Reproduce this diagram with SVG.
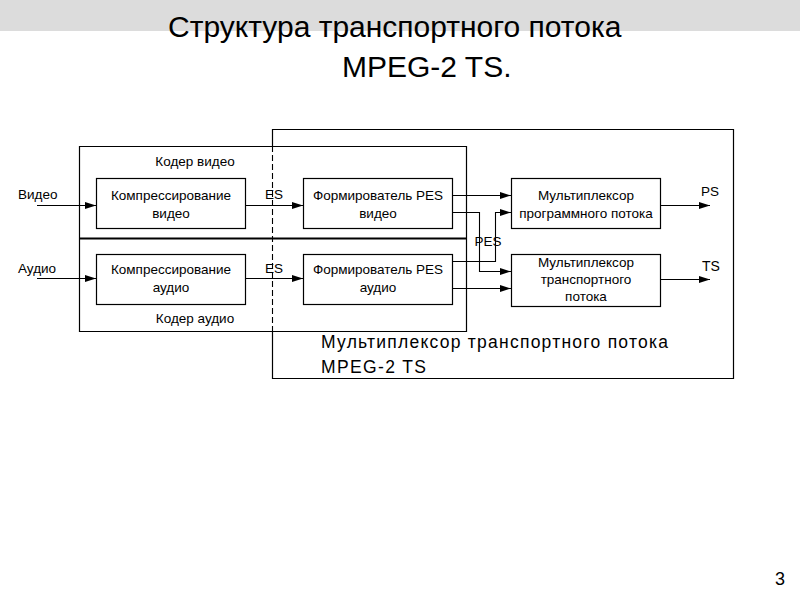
<svg xmlns="http://www.w3.org/2000/svg" width="800" height="600" viewBox="0 0 800 600">
<style>
.box{fill:none;stroke:#000;stroke-width:1.2}
.ln{fill:none;stroke:#000;stroke-width:1.1}
.t{font-family:"Liberation Sans",Arial,sans-serif;font-size:13.5px;fill:#000}
.c{text-anchor:middle}
.big{font-family:"Liberation Sans",Arial,sans-serif;font-size:17.5px;fill:#000}
.title{font-family:"Liberation Sans",Arial,sans-serif;font-size:30px;fill:#000}
</style>
<defs>
<marker id="ah" markerUnits="userSpaceOnUse" markerWidth="12" markerHeight="8" refX="11" refY="4" orient="auto">
<path d="M0,0.5 L11,4 L0,7.5 Z" fill="#000"/>
</marker>
</defs>
<rect x="0" y="0" width="800" height="31" fill="#dcdcdc"/>
<text class="title" x="168" y="37">Структура транспортного потока</text>
<text class="title" x="342" y="77">MPEG-2 TS.</text>

<g id="mux-ts-outer">
<path class="box" d="M272.5,146 V129.5 H733.5 V378.5 H272.5 V331"/>
<line x1="272.5" y1="146" x2="272.5" y2="331" stroke="#000" stroke-width="1.1" stroke-dasharray="6,3"/>
<text class="big" x="321" y="348" textLength="347" lengthAdjust="spacing">Мультиплексор транспортного потока</text>
<text class="big" x="321" y="373" textLength="105" lengthAdjust="spacing">MPEG-2 TS</text>
</g>

<g id="coder-video">
<path class="box" d="M79.5,238 V146.5 H466.5 V238"/>
<text class="t c" x="195" y="166">Кодер видео</text>
</g>
<g id="coder-audio">
<path class="box" d="M79.5,238 V331.5 H466.5 V238"/>
<line x1="79" y1="238.5" x2="467" y2="238.5" stroke="#000" stroke-width="2.2"/>
<text class="t c" x="195" y="323">Кодер аудио</text>
</g>

<g id="comp-video">
<rect class="box" x="96.5" y="178.5" width="149" height="50"/>
<text class="t c" x="171" y="200">Компрессирование</text>
<text class="t c" x="171" y="218">видео</text>
</g>
<g id="comp-audio">
<rect class="box" x="96.5" y="254.5" width="149" height="50"/>
<text class="t c" x="171" y="274">Компрессирование</text>
<text class="t c" x="171" y="292">аудио</text>
</g>
<g id="pes-video">
<rect class="box" x="303.5" y="178.5" width="149" height="50"/>
<text class="t c" x="378" y="200">Формирователь PES</text>
<text class="t c" x="378" y="218">видео</text>
</g>
<g id="pes-audio">
<rect class="box" x="303.5" y="254.5" width="149" height="50"/>
<text class="t c" x="378" y="274">Формирователь PES</text>
<text class="t c" x="378" y="292">аудио</text>
</g>
<g id="mux-ps">
<rect class="box" x="511.5" y="178.5" width="149" height="50"/>
<text class="t c" x="586" y="200">Мультиплексор</text>
<text class="t c" x="586" y="218">программного потока</text>
</g>
<g id="mux-ts">
<rect class="box" x="511.5" y="254.5" width="149" height="52"/>
<text class="t c" x="586" y="267">Мультиплексор</text>
<text class="t c" x="586" y="284">транспортного</text>
<text class="t c" x="586" y="301">потока</text>
</g>

<g id="connectors">
<path class="ln" d="M37,205.5 H96" marker-end="url(#ah)"/>
<path class="ln" d="M37,278.5 H96" marker-end="url(#ah)"/>
<path class="ln" d="M246,205.5 H303" marker-end="url(#ah)"/>
<path class="ln" d="M246,278.5 H303" marker-end="url(#ah)"/>
<path class="ln" d="M453,195.5 H511" marker-end="url(#ah)"/>
<path class="ln" d="M453,212.5 H479.5 V271.5 H511" marker-end="url(#ah)"/>
<path class="ln" d="M453,261.5 H495.5 V212.5 H511" marker-end="url(#ah)"/>
<path class="ln" d="M453,288.5 H511" marker-end="url(#ah)"/>
<path class="ln" d="M661,205.5 H710" marker-end="url(#ah)"/>
<path class="ln" d="M661,279.5 H710" marker-end="url(#ah)"/>
</g>

<g id="labels">
<text class="t" x="18" y="199">Видео</text>
<text class="t" x="18" y="273">Аудио</text>
<text class="t" x="265" y="199">ES</text>
<text class="t" x="265" y="273">ES</text>
<text class="t c" x="488" y="246">PES</text>
<text class="t" x="701" y="196">PS</text>
<text class="t" x="702" y="271" style="font-size:14px">TS</text>
</g>
<text x="775" y="585" style="font-family:'Liberation Sans',Arial,sans-serif;font-size:18px">3</text>
</svg>
